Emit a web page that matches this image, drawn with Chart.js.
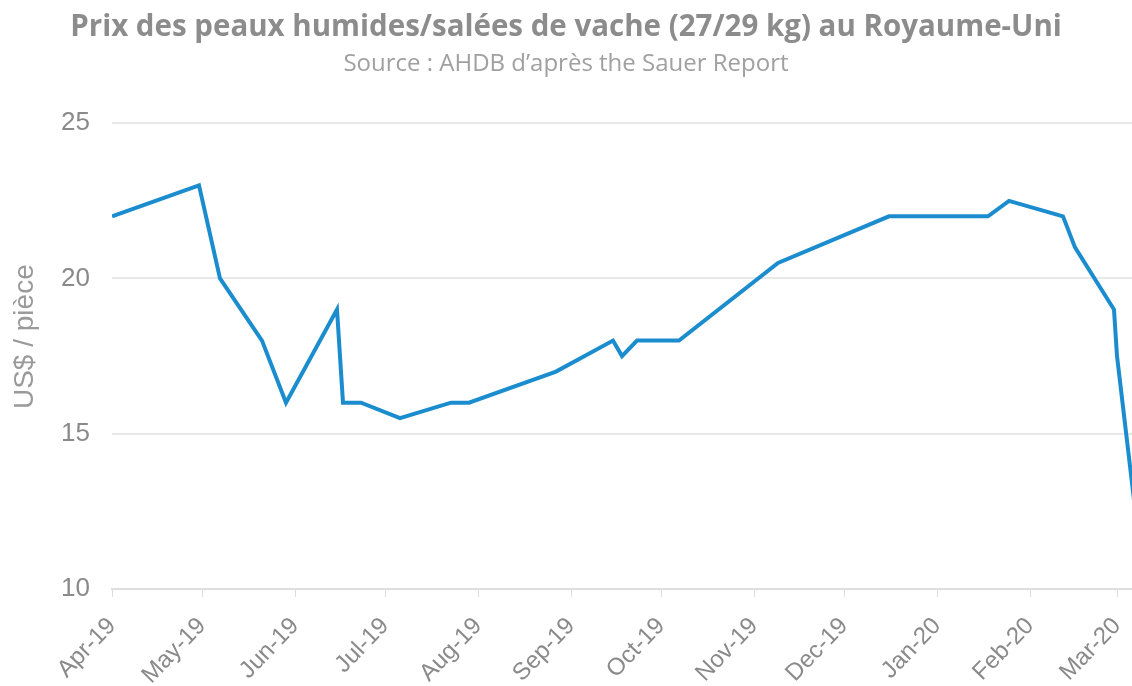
<!DOCTYPE html>
<html>
<head>
<meta charset="utf-8">
<script src="https://cdn.jsdelivr.net/npm/chart.js@4.4.1/dist/chart.umd.min.js"></script>
<style>
  html, body { margin: 0; padding: 0; background: #fff; }
  #wrap { width: 1132px; height: 686px; }
</style>
</head>
<body>
<div id="wrap"><canvas id="chart" width="1132" height="686"></canvas></div>
<script>
// days counted from 1 Apr 2019
const dayOffsets = [0, 29, 36, 50, 58, 75, 77, 83, 96, 113, 119, 148, 167, 170, 175, 189, 222, 259, 292, 299, 317, 321, 334, 335, 341];
const prices     = [22, 23, 20, 18, 16, 19, 16, 16, 15.5, 16, 16, 17, 18, 17.5, 18, 18, 20.5, 22, 22, 22.5, 22, 21, 19, 17.5, 12.6];

const monthStarts = [0, 30, 61, 91, 122, 153, 183, 214, 244, 275, 306, 335];
const monthLabels = ['Apr-19', 'May-19', 'Jun-19', 'Jul-19', 'Aug-19', 'Sep-19', 'Oct-19', 'Nov-19', 'Dec-19', 'Jan-20', 'Feb-20', 'Mar-20'];
const yTicks = [10, 15, 20, 25];

const points = dayOffsets.map((d, i) => ({ x: d, y: prices[i] }));
const grey = '#8a8a8a';
const sans = "'Liberation Sans', Arial, sans-serif";

new Chart(document.getElementById('chart'), {
    type: 'line',
    data: {
        datasets: [{
            data: points,
            borderColor: '#1b8dcf',
            borderWidth: 4,
            pointRadius: 0,
            tension: 0,
            fill: false
        }]
    },
    options: {
        responsive: false,
        animation: false,
        layout: { padding: { top: 10, right: 0, left: 0, bottom: 0 } },
        plugins: {
            legend: { display: false },
            tooltip: { enabled: false },
            title: {
                display: true,
                text: 'Prix des peaux humides/salées de vache (27/29 kg) au Royaume-Uni',
                color: '#8c8c8c',
                font: { family: "'Open Sans', sans-serif", size: 29.5, weight: 'bold' },
                padding: { top: 0, bottom: 4 }
            },
            subtitle: {
                display: true,
                text: 'Source : AHDB d\u2019après the Sauer Report',
                color: '#a0a0a0',
                font: { family: "'Open Sans', sans-serif", size: 24 },
                padding: { top: 0, bottom: 45 }
            }
        },
        scales: {
            x: {
                type: 'linear',
                min: 0,
                max: 340,
                afterBuildTicks: (scale) => { scale.ticks = monthStarts.map(v => ({ value: v })); },
                afterFit: (scale) => { scale.height = 97; scale.paddingRight = 0; },
                ticks: {
                    autoSkip: false,
                    minRotation: 46,
                    maxRotation: 46,
                    color: grey,
                    padding: 15,
                    font: { family: sans, size: 24 },
                    callback: (v) => monthLabels[monthStarts.indexOf(v)]
                },
                grid: { drawOnChartArea: false, tickLength: 8, color: '#dedede' },
                border: { color: '#dedede', width: 2 }
            },
            y: {
                min: 10,
                max: 25,
                afterBuildTicks: (scale) => { scale.ticks = yTicks.map(v => ({ value: v })); },
                afterFit: (scale) => { scale.width = 112; },
                ticks: {
                    color: grey,
                    padding: 22,
                    font: { family: sans, size: 26 }
                },
                grid: { drawTicks: false, color: '#e8e8e8', lineWidth: 2 },
                border: { display: false },
                title: {
                    display: true,
                    text: '     US$ / pièce',
                    color: '#9a9a9a',
                    font: { family: sans, size: 28 },
                    padding: { top: 8, bottom: 0 }
                }
            }
        }
    }
});
</script>
</body>
</html>
